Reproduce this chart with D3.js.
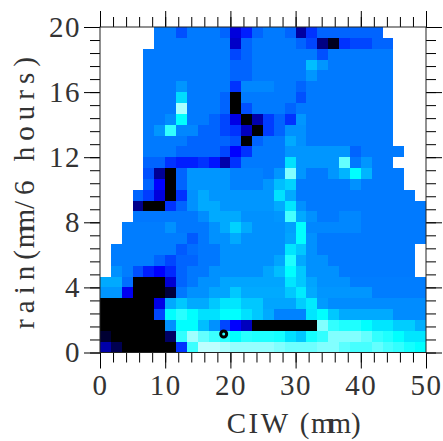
<!DOCTYPE html>
<html>
<head>
<meta charset="utf-8">
<script src="https://cdnjs.cloudflare.com/ajax/libs/d3/7.8.5/d3.min.js"></script>
<style>
  html, body { margin: 0; padding: 0; background: #fff; }
  text { font-family: "Liberation Serif", serif; fill: #333; }
</style>
</head>
<body>
<div id="wrapper"></div>
<script>
const _ = null;

// density per cell, rows run from rain = 0 upward, columns from CIW = 0
const cells = [
  [170,80,0,0,0,0,0,305,570,700,700,680,660,660,660,660,640,620,620,620,640,640,600,580,580,610,580,560,530,510],
  [50,0,0,0,0,0,100,560,670,610,570,550,510,550,540,540,530,480,455,530,560,640,640,640,610,560,540,510,485,485],
  [0,0,0,0,0,0,400,510,510,445,400,325,255,190,0,0,0,0,0,0,640,560,540,540,510,485,485,460,460,430],
  [0,0,0,0,0,325,510,550,510,480,480,510,510,480,455,425,385,385,385,485,510,455,425,425,425,425,425,395,395,395],
  [0,0,0,0,0,230,425,455,425,425,455,485,485,455,455,420,420,420,460,490,410,395,395,395,395,395,395,395,395,395],
  [405,405,240,0,0,0,60,375,400,400,420,420,455,425,425,425,425,455,490,425,405,405,405,405,405,380,380,380,380,380],
  [425,425,365,0,0,0,210,355,375,400,400,420,420,420,420,420,420,485,455,420,400,400,400,380,380,380,380,380,380,380],
  [_,400,380,335,285,255,295,355,375,375,400,400,400,400,400,420,445,510,455,400,400,400,377,377,377,377,377,377,377,_],
  [_,380,380,380,380,355,325,355,355,375,375,400,400,400,400,400,420,540,425,400,400,377,377,377,377,377,377,377,377,_],
  [_,380,380,380,380,380,380,345,365,375,375,400,400,400,400,400,400,485,455,400,377,377,377,377,377,377,377,377,377,_],
  [_,_,380,380,380,380,380,380,345,375,400,400,425,400,400,400,400,420,510,400,377,377,377,377,377,377,377,377,377,377],
  [_,_,380,380,380,380,400,375,375,375,400,425,465,425,400,400,400,415,510,390,390,390,390,390,377,377,377,377,377,377],
  [_,_,_,375,375,375,375,375,375,395,425,425,425,400,400,400,405,580,425,400,377,377,390,390,377,377,377,377,377,377],
  [_,_,_,140,0,0,305,355,400,425,425,405,405,405,405,405,425,485,400,377,377,377,377,377,377,377,377,377,377,377],
  [_,_,_,355,315,220,0,305,400,425,405,405,405,405,405,405,480,425,377,377,377,377,377,377,377,377,377,377,377,_],
  [_,_,_,_,355,255,0,355,405,405,405,405,385,385,385,405,445,465,377,377,377,377,377,400,377,377,377,377,_,_],
  [_,_,_,_,335,150,0,355,405,405,405,405,385,385,385,377,405,640,405,377,377,405,435,510,435,377,377,377,_,_],
  [_,_,_,_,355,355,305,285,285,305,275,170,305,377,377,377,377,480,405,405,405,405,610,375,405,377,377,_,_,_],
  [_,_,_,_,377,377,377,355,355,355,355,325,255,305,377,377,377,405,405,405,405,405,405,355,377,377,377,377,_,_],
  [_,_,_,_,377,377,377,377,355,355,355,355,335,0,355,377,377,425,400,377,377,377,377,377,377,377,377,_,_,_],
  [_,_,_,_,377,405,560,390,390,355,355,325,305,190,0,315,355,400,400,377,377,377,377,377,377,377,377,_,_,_],
  [_,_,_,_,377,377,395,510,377,377,355,325,230,0,170,315,355,305,405,377,377,377,377,377,377,377,377,_,_,_],
  [_,_,_,_,377,377,377,680,377,377,377,355,0,335,377,377,377,355,377,377,377,377,377,377,377,377,377,_,_,_],
  [_,_,_,_,377,377,377,475,377,377,377,355,0,377,377,377,377,377,335,377,377,377,377,377,377,377,377,_,_,_],
  [_,_,_,_,377,377,377,405,377,377,377,377,305,390,390,390,377,377,355,377,377,377,377,377,377,377,377,_,_,_],
  [_,_,_,_,377,377,377,377,377,377,377,377,355,355,377,377,377,377,377,405,377,377,377,377,377,377,377,_,_,_],
  [_,_,_,_,377,377,377,377,377,377,377,377,355,355,377,377,377,377,377,445,405,377,377,377,377,377,377,_,_,_],
  [_,_,_,_,377,377,377,377,377,377,377,377,325,355,377,377,377,377,377,377,335,377,377,377,377,377,377,_,_,_],
  [_,_,_,_,_,377,377,377,377,377,377,377,200,355,377,377,377,377,355,325,130,30,305,325,325,355,355,_,_,_],
  [_,_,_,_,_,377,377,335,377,377,377,355,220,285,355,377,377,355,160,305,355,355,355,355,355,355,_,_,_,_]
];

const ciwMajor = [0, 10, 20, 30, 40, 50];
const ciwMinor = [0, 2, 4, 6, 8, 10, 12, 14, 16, 18, 20, 22, 24, 26, 28, 30, 32, 34, 36, 38, 40, 42, 44, 46, 48, 50];
const rainMajor = [0, 4, 8, 12, 16, 20];
const rainMinor = [0, 0.8, 1.6, 2.4, 3.2, 4, 4.8, 5.6, 6.4, 7.2, 8, 8.8, 9.6, 10.4, 11.2, 12, 12.8, 13.6, 14.4, 15.2, 16, 16.8, 17.6, 18.4, 19.2, 20];
const markerPoint = [18.97, 1.14];

const dimensions = {
  width: 443,
  height: 441,
  left: 100,
  right: 426,
  top: 27,
  bottom: 352.5,
};

const xScale = d3.scaleLinear()
  .domain([0, 50])
  .range([dimensions.left, dimensions.right]);

const yScale = d3.scaleLinear()
  .domain([0, 20])
  .range([dimensions.bottom, dimensions.top]);

const colorScale = d3.scaleLinear()
  .domain([0, 255, 510, 765])
  .range(["#000000", "#0000ff", "#00ffff", "#ffffff"]);

const wrapper = d3.select("#wrapper")
  .append("svg")
  .attr("width", dimensions.width)
  .attr("height", dimensions.height)
  .style("display", "block");

// cells
const xStep = 50 / cells[0].length;
const yStep = 20 / cells.length;

const rows = wrapper.append("g")
  .attr("shape-rendering", "crispEdges")
  .selectAll("g")
  .data(cells)
  .enter()
  .append("g");

rows.selectAll("rect")
  .data((row, j) => row.map((value, i) => ({ value, i, j })).filter(d => d.value !== null))
  .enter()
  .append("rect")
  .attr("x", d => xScale(d.i * xStep))
  .attr("y", d => yScale((d.j + 1) * yStep))
  .attr("width", d => xScale((d.i + 1) * xStep) - xScale(d.i * xStep))
  .attr("height", d => yScale(d.j * yStep) - yScale((d.j + 1) * yStep))
  .attr("fill", d => colorScale(d.value));

// axes on all four sides, major and minor ticks drawn separately
function drawAxis(generator, scale, major, minor, translate, labels, padding) {
  const minorAxis = wrapper.append("g")
    .attr("transform", translate)
    .call(generator(scale).tickValues(minor).tickSize(10).tickFormat(""));
  minorAxis.select(".domain").remove();

  const majorAxis = wrapper.append("g")
    .attr("transform", translate)
    .call(generator(scale).tickValues(major).tickSize(16).tickPadding(padding)
      .tickFormat(labels ? d => d : ""));
  majorAxis.select(".domain").remove();
  majorAxis.selectAll("text")
    .style("font-size", "29px")
    .style("letter-spacing", "1.5px");
  return majorAxis;
}

drawAxis(d3.axisBottom, xScale, ciwMajor, ciwMinor, `translate(0,${dimensions.bottom})`, true, 6);
drawAxis(d3.axisTop, xScale, ciwMajor, ciwMinor, `translate(0,${dimensions.top})`, false, 3);
drawAxis(d3.axisLeft, yScale, rainMajor, rainMinor, `translate(${dimensions.left},0)`, true, 3);
drawAxis(d3.axisRight, yScale, rainMajor, rainMinor, `translate(${dimensions.right},0)`, false, 3);

// frame
wrapper.append("rect")
  .attr("x", dimensions.left)
  .attr("y", dimensions.top)
  .attr("width", dimensions.right - dimensions.left)
  .attr("height", dimensions.bottom - dimensions.top)
  .attr("fill", "none")
  .attr("stroke", "#222");

// marker
wrapper.append("circle")
  .attr("cx", xScale(markerPoint[0]))
  .attr("cy", yScale(markerPoint[1]))
  .attr("r", 3)
  .attr("fill", "none")
  .attr("stroke", "black")
  .attr("stroke-width", 3);

// axis titles, the "mm" letters overlap in the original
const xLabel = wrapper.append("text")
  .attr("x", 295)
  .attr("y", 433)
  .style("text-anchor", "middle")
  .style("font-size", "29px")
  .style("letter-spacing", "2.5px");
xLabel.append("tspan").text("CIW (");
xLabel.append("tspan").attr("dx", -1).style("letter-spacing", "-5px").text("mm");
xLabel.append("tspan").attr("dx", 5).text(")");

const yLabel = wrapper.append("text")
  .attr("transform", "translate(34,190) rotate(-90)")
  .style("text-anchor", "middle")
  .style("font-size", "29px")
  .style("letter-spacing", "6px");
yLabel.append("tspan").text("rain(");
yLabel.append("tspan").attr("dx", -4).style("letter-spacing", "-6px").text("mm");
yLabel.append("tspan").attr("dx", 6).text("/6 hours)");
</script>
</body>
</html>
